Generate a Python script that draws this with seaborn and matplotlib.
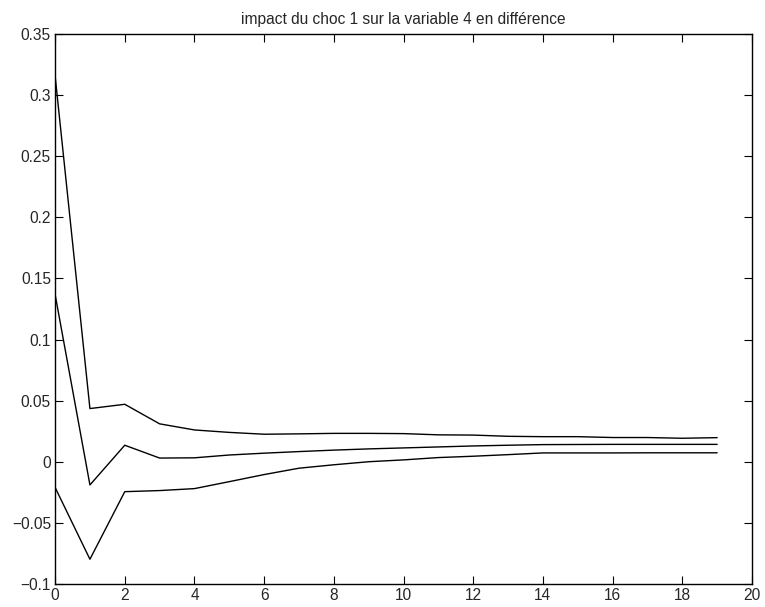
import numpy as np
import pandas as pd
import matplotlib
matplotlib.use("Agg")
import matplotlib.pyplot as plt
import seaborn as sns

# horizons and the three impulse response curves (upper band, response, lower band)
horizon = list(range(20))
upper = [0.316, 0.0435, 0.047, 0.031, 0.026, 0.024, 0.0225, 0.0228, 0.0232, 0.0232,
         0.0230, 0.022, 0.0218, 0.0208, 0.0205, 0.0205, 0.0198, 0.0198, 0.0192, 0.0197]
middle = [0.137, -0.019, 0.0135, 0.003, 0.0032, 0.0055, 0.007, 0.0083, 0.0095, 0.0105,
          0.0113, 0.0121, 0.0129, 0.0135, 0.014, 0.0141, 0.0142, 0.0142, 0.0142, 0.0142]
lower = [-0.021, -0.0798, -0.0245, -0.0236, -0.022, -0.0163, -0.0105, -0.0053, -0.0025, 0.0,
         0.0015, 0.0034, 0.0045, 0.0058, 0.0072, 0.0072, 0.0072, 0.0073, 0.0073, 0.0073]

ytick_labels = ["\u22120.1", "\u22120.05", "0", "0.05", "0.1", "0.15", "0.2", "0.25", "0.3", "0.35"]
title = "impact du choc 1 sur la variable 4 en différence"

sns.set_style("ticks")
plt.rcParams['font.family'] = ['Liberation Sans', 'DejaVu Sans']
plt.rcParams['xtick.direction'] = 'in'
plt.rcParams['ytick.direction'] = 'in'

df = pd.DataFrame({"h": horizon, "upper": upper, "middle": middle, "lower": lower})

fig = plt.figure(figsize=(7.65, 6.07), dpi=100)
ax = fig.add_axes([0.072, 0.038, 0.911, 0.906])

for col in ["upper", "middle", "lower"]:
    sns.lineplot(data=df, x="h", y=col, ax=ax, color="black", linewidth=1)

ax.set_xlim(0, 20)
ax.set_ylim(-0.1, 0.35)
ax.set_xticks(np.arange(0, 21, 2))
ax.set_yticks(np.arange(-0.1, 0.351, 0.05))
ax.set_yticklabels(ytick_labels)
ax.set_xlabel("")
ax.set_ylabel("")
ax.set_title(title, fontsize=11.2, pad=7)
ax.tick_params(top=True, right=True, labelsize=11.2, length=6, width=0.8,
               color="black", pad=3)
for s in ax.spines.values():
    s.set_visible(True)
    s.set_color("black")
    s.set_linewidth(1)

fig.savefig("out.png", dpi=100)
